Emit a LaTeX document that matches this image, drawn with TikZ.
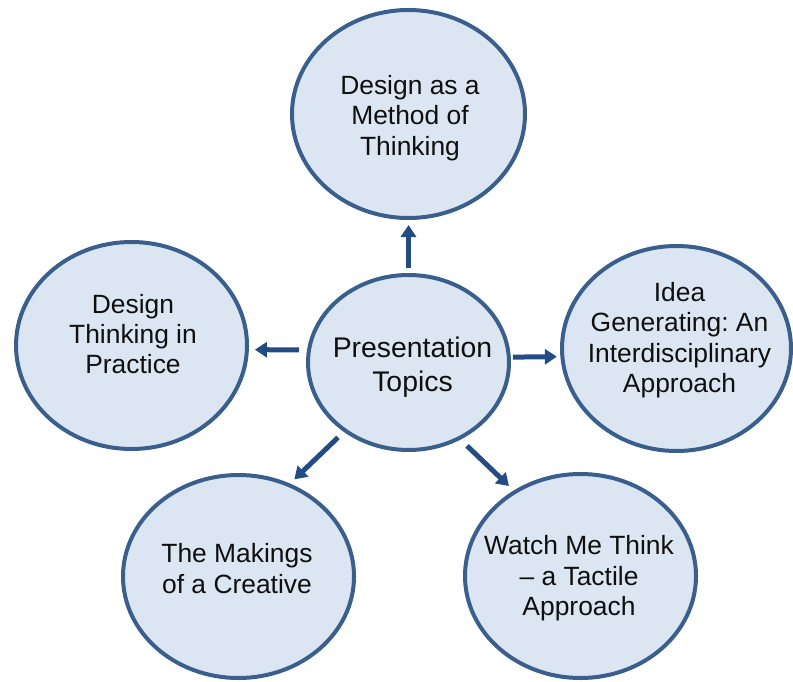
\documentclass[tikz,border=0pt]{standalone}
\usepackage{fontspec}
\setmainfont{Liberation Sans}
\usetikzlibrary{shapes.geometric,arrows.meta}
\definecolor{bfill}{RGB}{220,230,242}
\definecolor{bline}{RGB}{58,95,140}
\definecolor{arr}{RGB}{35,76,133}
\definecolor{tcol}{RGB}{15,15,15}
\frenchspacing
\begin{document}
\begin{tikzpicture}[x=1bp,y=-1bp,
  bubble/.style={ellipse, draw=bline, line width=4bp, fill=bfill, inner sep=0pt},
  txt/.style={align=center, inner sep=0pt, text=tcol, font=\fontsize{26.5}{30.5}\selectfont},
  ctxt/.style={align=center, inner sep=0pt, text=tcol, font=\fontsize{28.5}{34}\selectfont},
  link/.style={draw=arr, line width=5bp, -{Triangle[length=12bp,width=15bp]}}]
\useasboundingbox (0,0) rectangle (793,682);
% bubbles
\node[bubble, minimum width=201bp, minimum height=175bp] (C) at (408.5,362.5) {};
\node[bubble, minimum width=233bp, minimum height=208bp] (T) at (408.5,114) {};
\node[bubble, minimum width=231bp, minimum height=207bp] (L) at (131.5,345.5) {};
\node[bubble, minimum width=229bp, minimum height=205bp] (R) at (676.5,348.5) {};
\node[bubble, minimum width=231bp, minimum height=203bp] (BL) at (238.5,576.5) {};
\node[bubble, minimum width=231bp, minimum height=204bp] (BR) at (580.5,576) {};
% texts
\node[ctxt] (tC) at (412.5,368) {\strut Presentation\\Topics\strut};
\node[txt] (tT) at (410,118.6) {\strut Design as a\\Method of\\Thinking\strut};
\node[txt] (tL) at (133,337.4) {\strut Design\\Thinking in\\Practice\strut};
\node[txt] (tR) at (679.5,341) {\strut Idea\\Generating: An\\Interdisciplinary\\Approach\strut};
\node[txt] (tBL) at (237,572) {\strut The Makings\\of a Creative\strut};
\node[txt] (tBR) at (579,579) {\strut Watch Me Think\\– a Tactile\\Approach\strut};
% connectors
\draw[link, shorten <=5bp, shorten >=5bp] (C.north) -- (T.south);
\draw[link, shorten <=8bp, shorten >=6bp] (C.173) -- (L.-2);
\draw[link, shorten <=2bp, shorten >=3.5bp] (C.3) -- (R.184);
\draw[link, shorten <=8bp, shorten >=6bp] (C.227) -- (BL.61);
\draw[link, shorten <=9bp, shorten >=6.5bp] (C.304) -- (BR.128);
\end{tikzpicture}
\end{document}
